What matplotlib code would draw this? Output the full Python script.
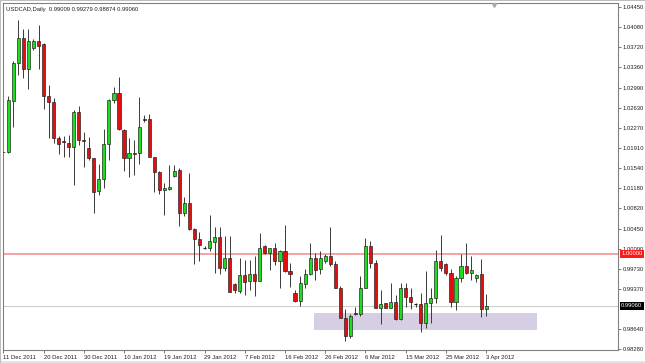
import matplotlib
matplotlib.use("Agg")
import matplotlib.pyplot as plt
from matplotlib.patches import Rectangle
import numpy as np

# ---------------- data ----------------
opens = [1.0184, 1.0184, 1.0276, 1.0343, 1.0388, 1.0332, 1.0371, 1.0383, 1.0377, 1.0285,
         1.0273, 1.0209, 1.0203, 1.0199, 1.0192, 1.0256, 1.0204, 1.0191, 1.0172, 1.0113,
         1.0135, 1.0197, 1.0277, 1.0289, 1.0223, 1.0172, 1.0181, 1.0181, 1.0242, 1.0242,
         1.0175, 1.0148, 1.0115, 1.0117, 1.0140, 1.0151, 1.0073, 1.0092, 1.0045, 1.0026,
         1.0011, 1.0011, 1.0022, 1.0031, 0.9975, 0.9993, 0.9945, 0.9933, 0.9962, 0.9951,
         0.9963, 0.9951, 1.0014, 1.0001, 1.0010, 0.9986, 1.0004, 0.9969, 0.9930, 0.9915,
         0.9945, 0.9963, 0.9993, 0.9972, 0.9986, 0.9996, 0.9981, 0.9939, 0.9885, 0.9852,
         0.9893, 0.9892, 0.9939, 1.0013, 0.9983, 0.9903, 0.9911, 0.9903, 0.9913, 0.9882,
         0.9939, 0.9922, 0.9909, 0.9909, 0.9875, 0.9911, 0.9920, 0.9987, 0.9981, 0.9965,
         0.9913, 0.9956, 0.9978, 0.9966, 0.9957, 0.9963, 0.99009]
highs = [1.0201, 1.0284, 1.0348, 1.0421, 1.0404, 1.0405, 1.0387, 1.0413, 1.0380, 1.0304,
         1.0280, 1.0212, 1.0212, 1.0214, 1.0259, 1.0267, 1.0220, 1.0210, 1.0173, 1.0161,
         1.0225, 1.0279, 1.0301, 1.0319, 1.0224, 1.0208, 1.0205, 1.0282, 1.0250, 1.0252,
         1.0175, 1.0149, 1.0127, 1.0160, 1.0160, 1.0154, 1.0102, 1.0146, 1.0046, 1.0040,
         1.0014, 1.0070, 1.0049, 1.0048, 1.0032, 1.0032, 0.9947, 0.9992, 0.9989, 0.9989,
         0.9995, 1.0037, 1.0015, 1.0011, 1.0019, 1.0007, 1.0052, 0.9983, 0.9935, 0.9959,
         0.9972, 1.0019, 1.0002, 1.0004, 0.9999, 1.0049, 0.9986, 0.9942, 0.9900, 0.9891,
         0.9904, 0.9959, 1.0028, 1.0023, 0.9989, 0.9935, 0.9912, 0.9947, 0.9926, 0.9947,
         0.9948, 0.9939, 0.9911, 0.9929, 0.9968, 0.9938, 1.0007, 1.0034, 0.9983, 0.9972,
         0.9959, 0.9999, 1.0019, 0.9995, 0.9963, 0.9990, 0.99279]
lows = [1.0182, 1.0182, 1.0229, 1.0322, 1.0317, 1.0296, 1.0367, 1.0332, 1.0261, 1.0208,
        1.0199, 1.0180, 1.0175, 1.0175, 1.0124, 1.0196, 1.0157, 1.0169, 1.0074, 1.0106,
        1.0118, 1.0169, 1.0271, 1.0223, 1.0149, 1.0139, 1.0142, 1.0161, 1.0238, 1.0174,
        1.0111, 1.0107, 1.0070, 1.0115, 1.0139, 1.0050, 1.0068, 1.0043, 0.9981, 0.9987,
        1.0009, 1.0004, 0.9965, 0.9963, 0.9968, 0.9931, 0.9930, 0.9930, 0.9926, 0.9935,
        0.9924, 0.9950, 0.9999, 0.9971, 0.9980, 0.9938, 0.9967, 0.9940, 0.9913, 0.9906,
        0.9939, 0.9961, 0.9953, 0.9963, 0.9983, 0.9978, 0.9938, 0.9884, 0.9843, 0.9848,
        0.9889, 0.9888, 0.9938, 0.9975, 0.9902, 0.9873, 0.9902, 0.9902, 0.9880, 0.9881,
        0.9904, 0.9900, 0.9904, 0.9859, 0.9866, 0.9876, 0.9912, 0.9968, 0.9962, 0.9904,
        0.9899, 0.9949, 0.9963, 0.9953, 0.9949, 0.9886, 0.98874]
closes = [1.0183, 1.0277, 1.0343, 1.0388, 1.0332, 1.0383, 1.0383, 1.0375, 1.0285, 1.0273,
          1.0209, 1.0197, 1.0202, 1.0192, 1.0256, 1.0205, 1.0203, 1.0172, 1.0112, 1.0135,
          1.0197, 1.0277, 1.0289, 1.0224, 1.0172, 1.0181, 1.0180, 1.0229, 1.0241, 1.0175,
          1.0148, 1.0115, 1.0118, 1.0120, 1.0149, 1.0074, 1.0092, 1.0044, 1.0026, 1.0015,
          1.0011, 1.0023, 1.0031, 0.9975, 0.9993, 0.9931, 0.9935, 0.9962, 0.9949, 0.9963,
          0.9951, 1.0010, 1.0001, 1.0010, 0.9986, 1.0004, 0.9968, 0.9963, 0.9915, 0.9947,
          0.9963, 0.9993, 0.9971, 0.9992, 0.9996, 0.9981, 0.9939, 0.9885, 0.9852, 0.9888,
          0.9892, 0.9939, 1.0013, 0.9983, 0.9903, 0.9909, 0.9903, 0.9913, 0.9882, 0.9939,
          0.9922, 0.9913, 0.9909, 0.9876, 0.9911, 0.9920, 0.9987, 0.9974, 0.9965, 0.9913,
          0.9956, 0.9978, 0.9966, 0.9970, 0.9961, 0.9900, 0.99060]

date_labels = ["11 Dec 2011", "20 Dec 2011", "30 Dec 2011", "10 Jan 2012", "19 Jan 2012",
               "29 Jan 2012", "7 Feb 2012", "16 Feb 2012", "26 Feb 2012", "6 Mar 2012",
               "15 Mar 2012", "25 Mar 2012", "3 Apr 2012"]
bars_per_label = 8
price_ticks = [1.04450, 1.04080, 1.03720, 1.03360, 1.02990, 1.02630, 1.02270, 1.01910,
               1.01540, 1.01180, 1.00820, 1.00450, 1.00090, 0.99730, 0.99370, 0.98640, 0.98280]
level_price = 1.00000
current_price = 0.99060
zone_top = 0.98936
zone_bottom = 0.98619
zone_first_bar = 61.8
zone_last_bar = 106.1
symbol_title = "USDCAD,Daily  0.99009 0.99279 0.98874 0.99060"

# ---------------- figure ----------------
W, H = 645, 363
fig = plt.figure(figsize=(W / 100, H / 100), dpi=100)
fig.patch.set_facecolor("white")
FONT = "Liberation Sans"
FS = 4.2

ax_l, ax_r, ax_t, ax_b = 2.5, 618, 2.8, 350
ax = fig.add_axes([ax_l / W, (H - ax_b) / H, (ax_r - ax_l) / W, (ax_b - ax_t) / H])
ax.set_facecolor("white")

n = len(opens)
x = np.arange(n)
o = np.array(opens); h = np.array(highs); l = np.array(lows); c = np.array(closes)

# support zone
ax.add_patch(Rectangle((zone_first_bar, zone_bottom), zone_last_bar - zone_first_bar,
                       zone_top - zone_bottom, facecolor="#d6cfe3", edgecolor="none", zorder=1))

# horizontal lines
ax.axhline(level_price, color="#f4a3a3", lw=1.4, zorder=1.5)
ax.axhline(current_price, color="#d0d0d0", lw=0.8, zorder=1.5)

# wicks
ax.vlines(x, l, h, color="#3a3a3a", lw=0.7, zorder=2)

# bodies
bw = 0.62
up = c > o + 1e-6
down = c < o - 1e-6
doji = ~(up | down)
ax.bar(x[up], (c - o)[up], bottom=o[up], width=bw, color="#1edc1e",
       edgecolor="#1a1a1a", linewidth=0.45, zorder=3)
ax.bar(x[down], (c - o)[down], bottom=o[down], width=bw, color="#e01010",
       edgecolor="#1a1a1a", linewidth=0.45, zorder=3)
ax.hlines(c[doji], x[doji] - bw / 2, x[doji] + bw / 2, color="#1a1a1a", lw=0.8, zorder=3)

# limits
px_per_bar = 5.03
x0 = (ax_l - 3.3) / px_per_bar
x1 = (ax_r - 3.3) / px_per_bar
ax.set_xlim(x0, x1)
ax.set_ylim(0.98265, 1.04521)

# axes styling
for s in ax.spines.values():
    s.set_color("#808080")
    s.set_linewidth(0.8)

ax.yaxis.tick_right()
ax.set_yticks(price_ticks)
ax.set_yticklabels([f"{v:.5f}" for v in price_ticks], fontsize=FS, family=FONT, color="#202020")
ax.tick_params(axis="y", length=2, width=0.5, color="#404040", pad=1.5)

tick_pos = np.arange(len(date_labels)) * bars_per_label
ax.set_xticks(tick_pos)
ax.set_xticklabels(date_labels, fontsize=FS, family=FONT, color="#202020", ha="left")
ax.tick_params(axis="x", length=2.5, width=0.5, color="#404040", pad=0.8)

# price labels on the right axis
ax.annotate(f"{level_price:.5f}", xy=(1.0, level_price), xycoords=("axes fraction", "data"),
            xytext=(2.2, 0), textcoords="offset points", va="center", ha="left",
            fontsize=FS, family=FONT, color="white",
            bbox=dict(boxstyle="square,pad=0.25", facecolor="#ff1a1a", edgecolor="none"),
            annotation_clip=False)
ax.annotate(f"{current_price:.5f}", xy=(1.0, current_price), xycoords=("axes fraction", "data"),
            xytext=(2.2, 0), textcoords="offset points", va="center", ha="left",
            fontsize=FS, family=FONT, color="white",
            bbox=dict(boxstyle="square,pad=0.25", facecolor="#000000", edgecolor="none"),
            annotation_clip=False)

# title
ax.text(0.006, 0.988, symbol_title, transform=ax.transAxes, ha="left", va="top",
        fontsize=FS, family=FONT, color="#202020")

# chart shift marker
ax.plot([0.799], [0.993], marker="v", markersize=2.8, color="#a8a8a8",
        transform=ax.transAxes, clip_on=False, zorder=5)

# window borders
fig.add_artist(Rectangle((0, 0), 1, 2.5 / H, transform=fig.transFigure,
                         facecolor="#e4e4e4", edgecolor="none"))
fig.add_artist(Rectangle((0, 0), 1.2 / W, 1, transform=fig.transFigure,
                         facecolor="#bdbdbd", edgecolor="none"))
fig.add_artist(Rectangle((0, 1 - 1.2 / H), 1, 1.2 / H, transform=fig.transFigure,
                         facecolor="#bdbdbd", edgecolor="none"))

fig.savefig("out.png", dpi=100, facecolor="white")
